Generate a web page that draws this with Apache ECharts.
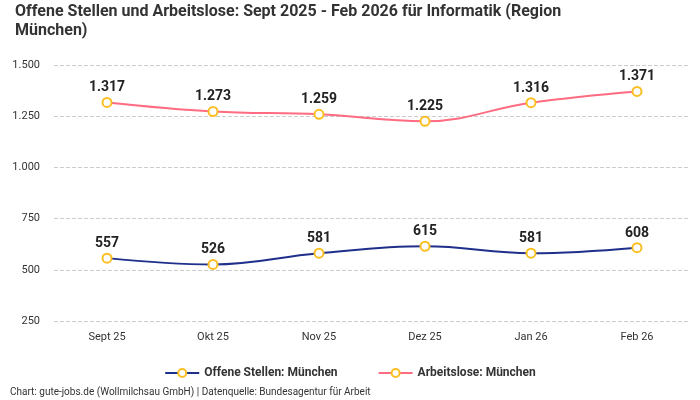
<!DOCTYPE html>
<html>
<head>
<meta charset="utf-8">
<script src="https://cdn.jsdelivr.net/npm/echarts@6/dist/echarts.min.js"></script>
<style>
  html, body { margin: 0; padding: 0; background: #fff; }
  #chart { width: 700px; height: 400px; }
</style>
</head>
<body>
<div id="chart"></div>
<script>
var months = ['Sept 25', 'Okt 25', 'Nov 25', 'Dez 25', 'Jan 26', 'Feb 26'];
var offeneStellen = [557, 526, 581, 615, 581, 608];
var arbeitslose = [1317, 1273, 1259, 1225, 1316, 1371];

function deNum(v) {
    return String(v).replace(/\B(?=(\d{3})+(?!\d))/g, '.');
}

(function () {
    var chart = echarts.init(document.getElementById('chart'));
    var font = 'Roboto, "Noto Sans", sans-serif';
    var markerStyle = { color: '#fff', borderColor: '#fbbf24', borderWidth: 2 };
    var labelStyle = {
        show: true, position: 'top', distance: 2,
        fontFamily: font, fontWeight: 'bold', fontSize: 14, color: '#222',
        formatter: function (p) { return deNum(p.value); }
    };
    var option = {
        textStyle: { fontFamily: font },
        title: {
            text: 'Offene Stellen und Arbeitslose: Sept 2025 - Feb 2026 für Informatik (Region\nMünchen)',
            left: 10, top: -3,
            textStyle: { fontSize: 16, fontWeight: 'bold', color: '#333', lineHeight: 19 }
        },
        legend: {
            bottom: 16, left: 'center',
            itemWidth: 34, itemHeight: 10, itemGap: 40,
            textStyle: { fontSize: 12, fontWeight: 'bold', color: '#333' }
        },
        graphic: [{
            type: 'text', left: 10, top: 387,
            style: { text: 'Chart: gute-jobs.de (Wollmilchsau GmbH) | Datenquelle: Bundesagentur für Arbeit',
                     fontSize: 10, fill: '#333', fontFamily: font }
        }],
        grid: { left: 54, right: 10, top: 65, bottom: 79 },
        xAxis: {
            type: 'category', data: months,
            axisLine: { show: false }, axisTick: { show: false },
            axisLabel: { color: '#333', fontSize: 11, margin: 11 }
        },
        yAxis: {
            type: 'value', min: 250, max: 1500, interval: 250,
            axisLabel: { color: '#333', fontSize: 11, margin: 14, formatter: deNum },
            splitLine: { lineStyle: { type: 'dashed', color: '#ccc' } }
        },
        series: [
            {
                name: 'Offene Stellen: München', type: 'line', data: offeneStellen,
                smooth: 0.4, symbol: 'circle', symbolSize: 9,
                lineStyle: { color: '#1f2f8c', width: 2 },
                itemStyle: markerStyle, color: '#1f2f8c',
                label: labelStyle
            },
            {
                name: 'Arbeitslose: München', type: 'line', data: arbeitslose,
                smooth: 0.4, symbol: 'circle', symbolSize: 9,
                lineStyle: { color: '#ff6b81', width: 2 },
                itemStyle: markerStyle, color: '#ff6b81',
                label: labelStyle
            }
        ]
    };
    chart.setOption(option);
})();
</script>
</body>
</html>
